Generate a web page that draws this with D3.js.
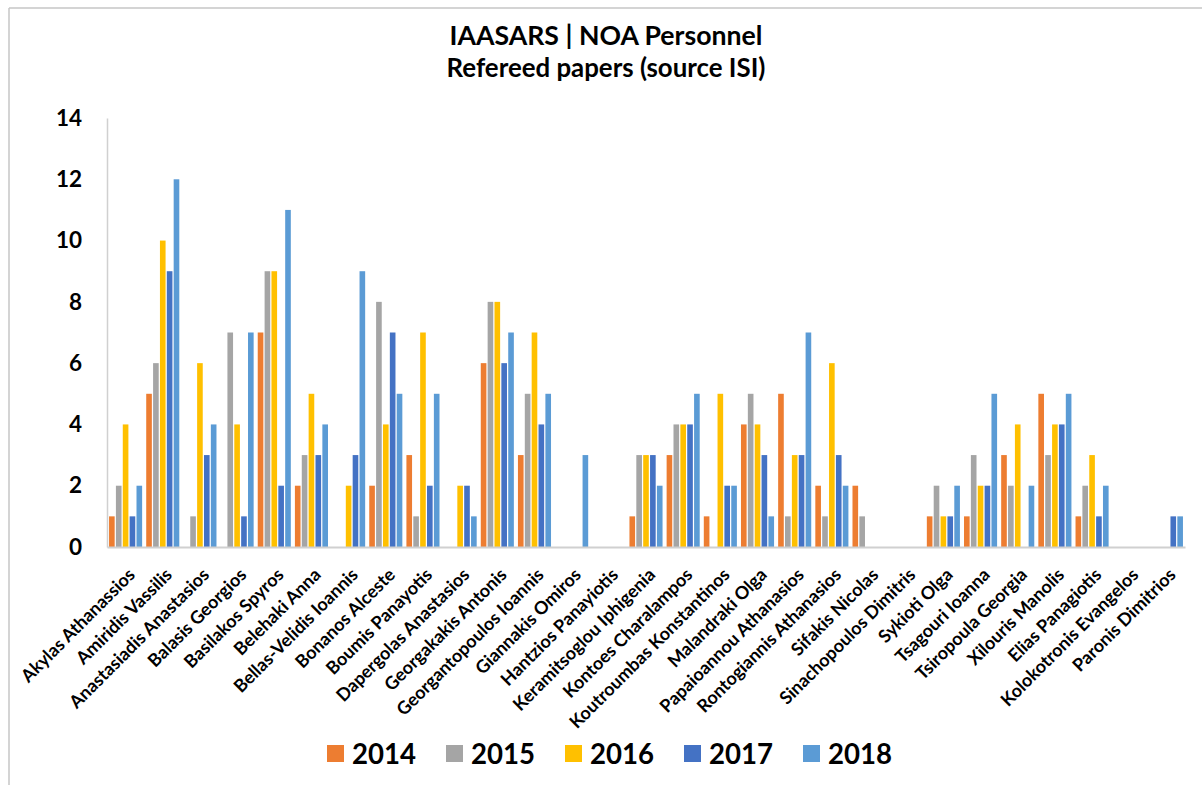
<!DOCTYPE html>
<html>
<head>
<meta charset="utf-8">
<script src="https://cdn.jsdelivr.net/npm/d3@7"></script>
<style>
  html, body { margin: 0; padding: 0; background: #fff; }
  svg { display: block; }
  text { font-family: Lato, "Open Sans", "DejaVu Sans", sans-serif; font-weight: bold; fill: #000; }
</style>
</head>
<body>
<svg id="chart" width="1202" height="785"></svg>
<script>
const categories = [
  "Akylas Athanassios", "Amiridis Vassilis", "Anastasiadis Anastasios", "Balasis Georgios",
  "Basilakos Spyros", "Belehaki Anna", "Bellas-Velidis Ioannis", "Bonanos Alceste",
  "Boumis Panayotis", "Dapergolas Anastasios", "Georgakakis Antonis", "Georgantopoulos Ioannis",
  "Giannakis Omiros", "Hantzios Panayiotis", "Keramitsoglou Iphigenia", "Kontoes Charalampos",
  "Koutroumbas Konstantinos", "Malandraki Olga", "Papaioannou Athanasios", "Rontogiannis Athanasios",
  "Sifakis Nicolas", "Sinachopoulos Dimitris", "Sykioti Olga", "Tsagouri Ioanna",
  "Tsiropoula Georgia", "Xilouris Manolis", "Elias Panagiotis", "Kolokotronis Evangelos",
  "Paronis Dimitrios"
];
const years = ["2014", "2015", "2016", "2017", "2018"];
const colors = ["#ED7D31", "#A5A5A5", "#FFC000", "#4472C4", "#5B9BD5"];
const v2014 = [1,5,0,0,7,2,0,2,3,0,6,3,0,0,1,3,1,4,5,2,2,0,1,1,3,5,1,0,0];
const v2015 = [2,6,1,7,9,3,0,8,1,0,8,5,0,0,3,4,0,5,1,1,1,0,2,3,2,3,2,0,0];
const v2016 = [4,10,6,4,9,5,2,4,7,2,8,7,0,0,3,4,5,4,3,6,0,0,1,2,4,4,3,0,0];
const v2017 = [1,9,3,1,2,3,3,7,2,2,6,4,0,0,3,4,2,3,3,3,0,0,1,2,0,4,1,0,1];
const v2018 = [2,12,4,7,11,4,9,5,5,1,7,5,3,0,2,5,2,1,7,2,0,0,2,5,2,5,2,0,1];
const series = [v2014, v2015, v2016, v2017, v2018];
const yTicks = [0, 2, 4, 6, 8, 10, 12, 14];
const titleLines = ["IAASARS | NOA Personnel", "Refereed papers (source ISI)"];

const svg = d3.select("#chart");

// outer frame (top & left visible)
svg.append("line").attr("x1", 9).attr("x2", 1202).attr("y1", 8).attr("y2", 8)
  .attr("stroke", "#c6c6c6").attr("stroke-width", 1.5);
svg.append("line").attr("x1", 9).attr("x2", 9).attr("y1", 8).attr("y2", 785)
  .attr("stroke", "#c6c6c6").attr("stroke-width", 1.5);

function fitText(sel, targetWidth) {
  const w = sel.node().getComputedTextLength();
  const fs = parseFloat(sel.attr("font-size"));
  sel.attr("font-size", fs * targetWidth / w);
}

// title
const t1 = svg.append("text").attr("x", 606).attr("y", 45).attr("text-anchor", "middle")
  .attr("font-size", 24).text(titleLines[0]);
fitText(t1, 313);
const t2 = svg.append("text").attr("x", 606).attr("y", 77).attr("text-anchor", "middle")
  .attr("font-size", 24).text(titleLines[1]);
fitText(t2, 319);

const x0 = d3.scaleBand().domain(categories).range([107, 1185]).paddingInner(0.11).paddingOuter(0.055);
const x1 = d3.scaleBand().domain(years).range([0, x0.bandwidth()]).paddingInner(0.18);
const y = d3.scaleLinear().domain([0, 14]).range([547, 118]);

// bars
const groups = svg.append("g").selectAll("g").data(categories).join("g")
  .attr("transform", d => `translate(${x0(d)},0)`);
groups.selectAll("rect")
  .data((d, i) => years.map((yr, k) => ({ yr, k, v: series[k][i] })))
  .join("rect")
  .attr("x", d => x1(d.yr))
  .attr("width", x1.bandwidth())
  .attr("y", d => y(d.v))
  .attr("height", d => y(0) - y(d.v))
  .attr("fill", d => colors[d.k]);

// y axis
const yAxis = d3.axisLeft(y).tickValues(yTicks).tickSize(0).tickPadding(25);
const gy = svg.append("g").attr("transform", "translate(107,0)").call(yAxis);
gy.select(".domain").attr("stroke", "#d0d0d0").attr("stroke-width", 1.5);
gy.selectAll("text").attr("font-size", 22.5).attr("font-family", "Lato, sans-serif")
  .attr("font-weight", "bold").attr("fill", "#000");

// x axis
const xAxis = d3.axisBottom(x0).tickSize(0).tickPadding(0);
const gx = svg.append("g").attr("transform", "translate(0,547)").call(xAxis);
gx.select(".domain").attr("stroke", "#d0d0d0").attr("stroke-width", 2);
const labels = gx.selectAll(".tick text")
  .attr("font-size", 14).attr("font-family", "Lato, sans-serif").attr("font-weight", "bold").attr("fill", "#000")
  .attr("text-anchor", "end")
  .attr("dy", "0.35em").attr("y", 0).attr("x", 0);
// size labels so that the first one spans ~152px
const firstLen = labels.nodes()[0].getComputedTextLength();
const lblSize = 14 * 152 / firstLen;
labels.attr("font-size", lblSize)
  .attr("transform", "translate(6,24.5) rotate(-45)");

// legend
const legendX0 = 327, legendStep = 119;
const lg = svg.append("g").selectAll("g").data(years).join("g")
  .attr("transform", (d, i) => `translate(${legendX0 + i * legendStep},745)`);
lg.append("rect").attr("width", 17).attr("height", 17).attr("fill", (d, i) => colors[i]);
lg.append("text").attr("x", 25).attr("y", 19).attr("font-size", 28).text(d => d)
  .each(function() { fitText(d3.select(this), 64); });
</script>
</body>
</html>
